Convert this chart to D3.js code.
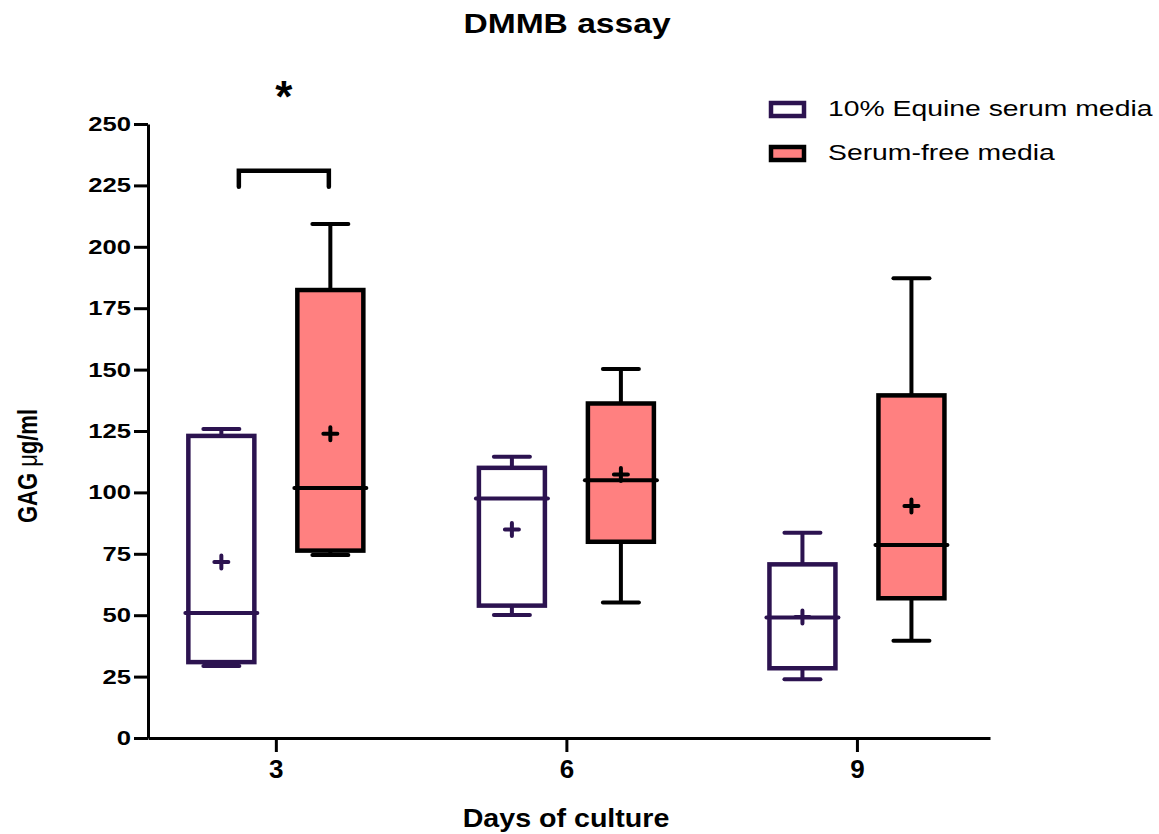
<!DOCTYPE html>
<html>
<head>
    <meta charset="utf-8">
    <title>DMMB assay</title>
    <script src="https://d3js.org/d3.v7.min.js"></script>
    <style>
        body { margin: 0; background: #fff; }
        text { font-family: "Liberation Sans", Arial, sans-serif; fill: #000; }
    </style>
</head>
<body>
    <script>
        // Days on the x axis and the two media groups
        const days = ["3", "6", "9"];
        const seriesNames = ["10% Equine serum media", "Serum-free media"];
        const yTicks = [0, 25, 50, 75, 100, 125, 150, 175, 200, 225, 250];

        // 10% equine serum media (per day)
        const serumMin    = [29.3, 50.1, 23.9];
        const serumQ1     = [30.9, 53.9, 28.4];
        const serumMedian = [50.9, 97.5, 49.1];
        const serumQ3     = [123.0, 110.0, 70.7];
        const serumMax    = [125.8, 114.5, 83.6];
        const serumMean   = [71.7, 84.9, 49.3];

        // Serum-free media
        const freeMin    = [74.5, 55.2, 39.6];
        const freeQ1     = [76.3, 79.9, 56.9];
        const freeMedian = [101.8, 104.9, 78.6];
        const freeQ3     = [182.4, 136.2, 139.5];
        const freeMax    = [209.3, 150.2, 187.2];
        const freeMean   = [123.9, 107.3, 94.5];

        // significance bracket (day 3)
        const sigDay = "3";
        const sigTop = 231;
        const sigFoot = 224.5;

        const purple = "#2c1350";
        const salmon = "#ff8080";

        const styles = [
            {stroke: purple, fill: "#ffffff"},
            {stroke: "#000000", fill: salmon}
        ];

        const stats = [
            {min: serumMin, q1: serumQ1, median: serumMedian, q3: serumQ3, max: serumMax, mean: serumMean},
            {min: freeMin, q1: freeQ1, median: freeMedian, q3: freeQ3, max: freeMax, mean: freeMean}
        ];

        const boxes = [];
        seriesNames.forEach((name, s) => {
            days.forEach((day, i) => {
                boxes.push({
                    series: name, day: day,
                    stroke: styles[s].stroke, fill: styles[s].fill,
                    min: stats[s].min[i], q1: stats[s].q1[i], median: stats[s].median[i],
                    q3: stats[s].q3[i], max: stats[s].max[i], mean: stats[s].mean[i]
                });
            });
        });

        const width = 1159, height = 834;
        const svg = d3.select("body").append("svg")
            .attr("width", width)
            .attr("height", height);

        const y = d3.scaleLinear().domain([0, 250]).range([738, 124]);
        const x = d3.scalePoint().domain(days).range([148, 990]).padding(0.449).align(0.49);
        const xSub = d3.scaleBand().domain(seriesNames).range([-109, 109]);
        const boxW = 66;

        // the original figure is stretched sideways, so most text is too
        function stretchedText(parent, tx, ty, sx) {
            return parent.append("text")
                .attr("transform", `translate(${tx},${ty}) scale(${sx},1)`);
        }

        // Title
        stretchedText(svg, 567, 33, 1.2)
            .attr("text-anchor", "middle")
            .style("font-size", "28px")
            .style("font-weight", "bold")
            .text("DMMB assay");

        // Y axis
        const yAxis = svg.append("g")
            .attr("transform", "translate(148,0)")
            .call(d3.axisLeft(y).tickValues(yTicks).tickSize(14).tickSizeOuter(0).tickPadding(3));
        yAxis.select(".domain").attr("stroke-width", 3).attr("stroke", "#000");
        yAxis.selectAll(".tick line").attr("stroke-width", 3).attr("stroke", "#000");
        yAxis.selectAll(".tick text")
            .attr("x", -17 / 1.25)
            .attr("transform", "scale(1.25,1)")
            .style("font-size", "20.5px")
            .style("font-weight", "bold")
            .attr("fill", "#000");

        // X axis
        const xAxis = svg.append("g")
            .attr("transform", "translate(0,738)")
            .call(d3.axisBottom(x).tickSize(14).tickSizeOuter(0).tickPadding(7.5));
        xAxis.select(".domain").attr("stroke-width", 3).attr("stroke", "#000");
        xAxis.selectAll(".tick line").attr("stroke-width", 3).attr("stroke", "#000");
        xAxis.selectAll(".tick text")
            .style("font-size", "26px")
            .style("font-weight", "bold")
            .attr("fill", "#000");

        // Axis titles
        stretchedText(svg, 566, 827, 1.08)
            .attr("text-anchor", "middle")
            .style("font-size", "26.5px")
            .style("font-weight", "bold")
            .text("Days of culture");

        const yLabel = svg.append("text")
            .attr("transform", "translate(37,466) scale(1.25,1) rotate(-90)")
            .attr("text-anchor", "middle")
            .style("font-size", "22px")
            .style("font-weight", "bold");
        yLabel.append("tspan").text("GAG ");
        yLabel.append("tspan").style("font-weight", "normal").text("\u03bc");
        yLabel.append("tspan").text("g/ml");

        // Box plots
        const box = svg.append("g").selectAll("g.box")
            .data(boxes)
            .join("g")
            .attr("class", "box")
            .attr("transform", d => `translate(${x(d.day) + xSub(d.series) + xSub.bandwidth() / 2},0)`);

        box.append("line")
            .attr("y1", d => y(d.max)).attr("y2", d => y(d.q3))
            .attr("stroke", d => d.stroke).attr("stroke-width", 4);
        box.append("line")
            .attr("y1", d => y(d.min)).attr("y2", d => y(d.q1))
            .attr("stroke", d => d.stroke).attr("stroke-width", 4);

        box.selectAll("line.cap")
            .data(d => [d.max, d.min].map(v => ({v: v, stroke: d.stroke})))
            .join("line")
            .attr("class", "cap")
            .attr("x1", -18).attr("x2", 18)
            .attr("y1", c => y(c.v)).attr("y2", c => y(c.v))
            .attr("stroke", c => c.stroke)
            .attr("stroke-width", 4)
            .attr("stroke-linecap", "round");

        box.append("rect")
            .attr("x", -boxW / 2)
            .attr("width", boxW)
            .attr("y", d => y(d.q3))
            .attr("height", d => y(d.q1) - y(d.q3))
            .attr("fill", d => d.fill)
            .attr("stroke", d => d.stroke)
            .attr("stroke-width", 4.5);

        box.append("line")
            .attr("x1", -36).attr("x2", 36)
            .attr("y1", d => y(d.median)).attr("y2", d => y(d.median))
            .attr("stroke", d => d.stroke)
            .attr("stroke-width", 4)
            .attr("stroke-linecap", "round");

        box.append("path")
            .attr("d", d => `M-7,${y(d.mean)}H7M0,${y(d.mean) - 6.5}V${y(d.mean) + 6.5}`)
            .attr("fill", "none")
            .attr("stroke", d => d.stroke)
            .attr("stroke-width", 4)
            .attr("stroke-linecap", "round");

        // Significance bracket and star
        const sigLeft = x(sigDay) + xSub(seriesNames[0]) + xSub.bandwidth() / 2 + 17.5;
        const sigRight = x(sigDay) + xSub(seriesNames[1]) + xSub.bandwidth() / 2 - 1.5;
        svg.append("path")
            .attr("d", `M${sigLeft},${y(sigFoot)}V${y(sigTop)}H${sigRight}V${y(sigFoot)}`)
            .attr("fill", "none")
            .attr("stroke", "#000")
            .attr("stroke-width", 4.5)
            .attr("stroke-linecap", "round");
        svg.append("text")
            .attr("x", x(sigDay) + 8)
            .attr("y", 112)
            .attr("text-anchor", "middle")
            .style("font-size", "44px")
            .style("font-weight", "bold")
            .text("*");

        // Legend
        const legend = svg.append("g").selectAll("g.legend-item")
            .data(seriesNames)
            .join("g")
            .attr("class", "legend-item")
            .attr("transform", (d, i) => `translate(769,${101 + i * 44})`);

        legend.append("rect")
            .attr("x", 2).attr("y", 2)
            .attr("width", 33).attr("height", 13)
            .attr("fill", (d, i) => styles[i].fill)
            .attr("stroke", (d, i) => styles[i].stroke)
            .attr("stroke-width", 4.5);

        legend.each(function(d) {
            stretchedText(d3.select(this), 59, 15, 1.26)
                .style("font-size", "22.5px")
                .text(d);
        });
    </script>
</body>
</html>
